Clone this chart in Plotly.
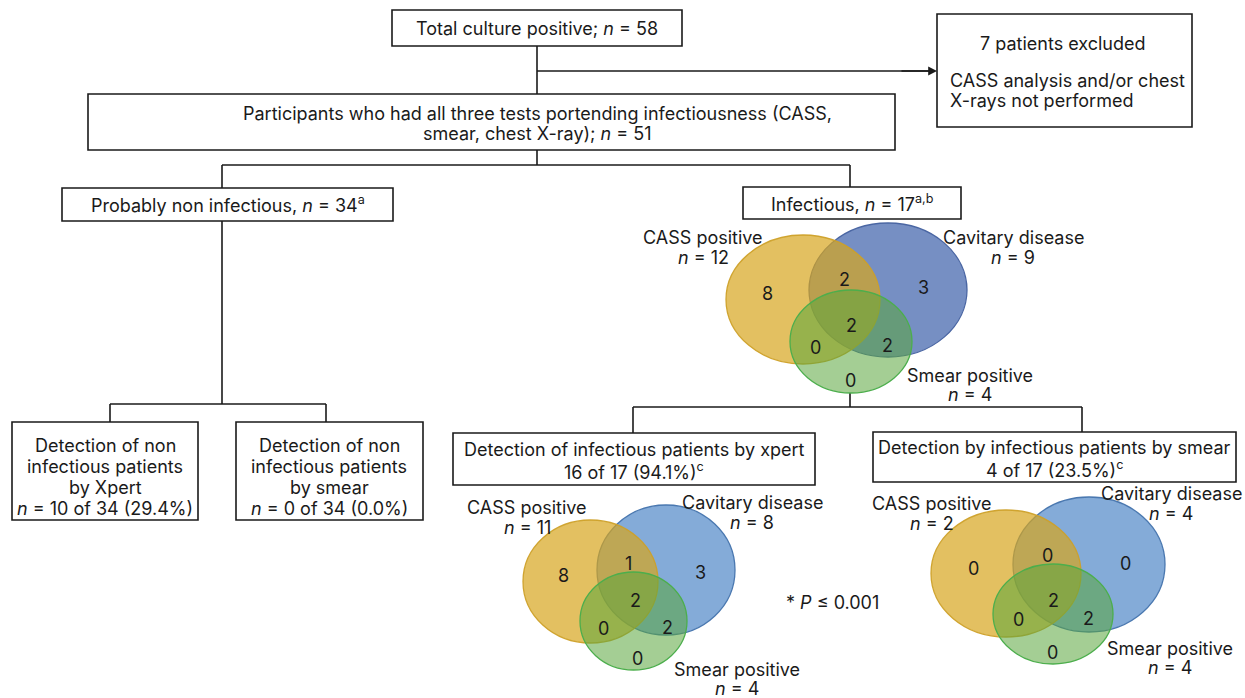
import plotly.graph_objects as go

FONT = "Inter"
FS = 18
INK = "#1a1a1a"

# ---------------- data ----------------
total_positive = 58
excluded = 7
all_three_tests = 51
non_infectious = 34
infectious = 17
xpert_noninf = 10
smear_noninf = 0
xpert_inf = 16
smear_inf = 4

cass_n = [12, 11, 2]
cavitary_n = [9, 8, 4]
smear_n = [4, 4, 4]
# regions: CASS only, CASS&cav, cav only, all three, CASS&smear, cav&smear, smear only
region_counts = [
    [8, 2, 3, 2, 0, 2, 0],
    [8, 1, 3, 2, 0, 2, 0],
    [0, 0, 0, 2, 0, 2, 0],
]
p_value_text = "* <i>P</i> ≤ 0.001"

# ---------------- geometry (pixels) ----------------
venn_geo = [
    dict(yellow=(726, 880, 235, 364), blue=(809, 967, 223, 357), green=(790, 912, 290, 393),
         regions=[(767, 293), (844, 279), (923, 287), (851, 325), (815, 347), (887, 345), (850, 380)],
         cass=(703, 237), cav=(1013, 237), smear=(970, 375),
         blue_fill="rgba(60,95,170,0.70)", blue_line="#4a66a3"),
    dict(yellow=(523, 658, 520, 643), blue=(597, 735, 505, 635), green=(580, 687, 572, 670),
         regions=[(563, 575), (628, 563), (700, 572), (635, 600), (603, 628), (667, 627), (637, 658)],
         cass=(527, 507), cav=(752, 502), smear=(737, 669),
         blue_fill="rgba(80,135,200,0.70)", blue_line="#4a78b0"),
    dict(yellow=(931, 1081, 510, 637), blue=(1013, 1165, 497, 632), green=(993, 1113, 564, 664),
         regions=[(973, 568), (1047, 555), (1125, 563), (1053, 600), (1018, 619), (1088, 618), (1052, 652)],
         cass=(932, 503), cav=(1171, 493), smear=(1170, 648),
         blue_fill="rgba(80,135,200,0.70)", blue_line="#4a78b0"),
]
YELLOW_FILL = "rgba(215,165,30,0.70)"
YELLOW_LINE = "rgba(205,160,40,0.95)"
GREEN_FILL = "rgba(90,165,60,0.55)"
GREEN_LINE = "#4cae4c"
LS = 20.5  # line spacing

fig = go.Figure()
fig.add_trace(go.Scatter(x=[0, 1245], y=[0, 698], mode="markers",
                         marker=dict(opacity=0), hoverinfo="skip", showlegend=False))

shapes = []
annots = []


def box(x0, x1, y0, y1):
    shapes.append(dict(type="rect", x0=x0, x1=x1, y0=y0, y1=y1,
                       line=dict(color=INK, width=1.6), fillcolor="white", layer="below"))


def line(x0, y0, x1, y1):
    shapes.append(dict(type="line", x0=x0, x1=x1, y0=y0, y1=y1,
                       line=dict(color=INK, width=1.6), layer="below"))


def text(x, y, lines, xanchor="center", size=FS, spacing=LS):
    if isinstance(lines, str):
        lines = [lines]
    for k, t in enumerate(lines):
        annots.append(dict(x=x, y=y + k * spacing, text=t, showarrow=False,
                           xanchor=xanchor, yanchor="middle",
                           font=dict(family=FONT, size=size, color=INK)))


# connectors
line(537, 46, 537, 94)
line(537, 71, 930, 71)
annots.append(dict(x=937, y=71, ax=900, ay=71, xref="x", yref="y", axref="x", ayref="y",
                   text="", showarrow=True, arrowhead=2, arrowsize=1.1, arrowwidth=1.6,
                   arrowcolor=INK, standoff=0))
line(537, 150, 537, 165)
line(222, 165, 850, 165)
line(222, 165, 222, 188)
line(850, 165, 850, 187)
line(222, 221, 222, 404)
line(110, 404, 326, 404)
line(110, 404, 110, 422)
line(326, 404, 326, 422)
line(850, 393, 850, 407)
line(633, 407, 1082, 407)
line(633, 407, 633, 433)
line(1082, 407, 1082, 432)

# boxes
box(392, 682, 10, 46)
text(537, 28, f"Total culture positive; <i>n</i> = {total_positive}")

box(937, 1192, 14, 127)
text(1063, 43, f"{excluded} patients excluded")
text(948, 80, ["CASS analysis and/or chest", "X-rays not performed"], xanchor="left")

box(88, 895, 94, 150)
text(537, 113, ["Participants who had all three tests portending infectiousness (CASS,",
                f"smear, chest X-ray); <i>n</i> = {all_three_tests}"])

box(62, 393, 188, 221)
text(228, 204, f"Probably non infectious, <i>n</i> = {non_infectious}<sup>a</sup>")

box(743, 961, 187, 219)
text(852, 203, f"Infectious, <i>n</i> = {infectious}<sup>a,b</sup>")

box(12, 198, 422, 520)
text(105, 445, ["Detection of non", "infectious patients", "by Xpert",
                f"<i>n</i> = {xpert_noninf} of {non_infectious} "
                f"({100 * xpert_noninf / non_infectious:.1f}%)"], spacing=21)
box(236, 423, 422, 520)
text(329, 445, ["Detection of non", "infectious patients", "by smear",
                f"<i>n</i> = {smear_noninf} of {non_infectious} "
                f"({100 * smear_noninf / non_infectious:.1f}%)"], spacing=21)

box(453, 815, 433, 485)
text(634, 449, ["Detection of infectious patients by xpert",
                f"{xpert_inf} of {infectious} ({100 * xpert_inf / infectious:.1f}%)<sup>c</sup>"],
     spacing=22)
box(873, 1236, 432, 482)
text(1054, 447, ["Detection by infectious patients by smear",
                 f"{smear_inf} of {infectious} ({100 * smear_inf / infectious:.1f}%)<sup>c</sup>"],
     spacing=22)

text(832, 602, p_value_text)

# venns
for i, g in enumerate(venn_geo):
    for key, fill, ln in [("blue", g["blue_fill"], g["blue_line"]),
                          ("yellow", YELLOW_FILL, YELLOW_LINE),
                          ("green", GREEN_FILL, GREEN_LINE)]:
        x0, x1, y0, y1 = g[key]
        shapes.append(dict(type="circle", x0=x0, x1=x1, y0=y0, y1=y1,
                           fillcolor=fill, line=dict(color=ln, width=1.3), layer="above"))
    for (x, y), c in zip(g["regions"], region_counts[i]):
        text(x, y, str(c))
    cx, cy = g["cass"]
    text(cx, cy, ["CASS positive", f"<i>n</i> = {cass_n[i]}"])
    vx, vy = g["cav"]
    text(vx, vy, ["Cavitary disease", f"<i>n</i> = {cavitary_n[i]}"])
    sx, sy = g["smear"]
    text(sx, sy, ["Smear positive", f"<i>n</i> = {smear_n[i]}"], spacing=19)

fig.update_layout(
    width=1245, height=698,
    margin=dict(l=0, r=0, t=0, b=0),
    paper_bgcolor="white", plot_bgcolor="white",
    xaxis=dict(range=[0, 1245], visible=False, fixedrange=True),
    yaxis=dict(range=[698, 0], visible=False, fixedrange=True),
    shapes=shapes, annotations=annots, showlegend=False,
    hovermode=False,
)

fig.write_html("out.html",
               config={"displayModeBar": False, "staticPlot": True},
               post_script="document.body.style.margin='0';document.body.style.overflow='hidden';")
